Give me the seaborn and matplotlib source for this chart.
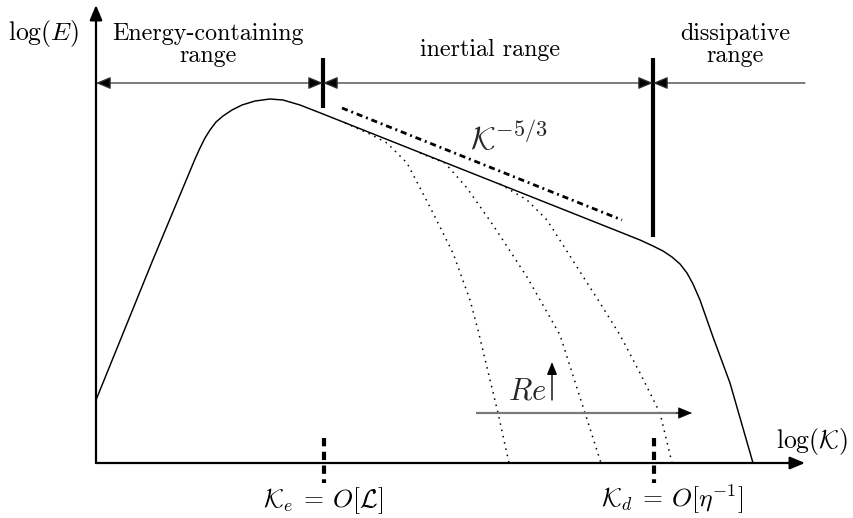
import matplotlib
matplotlib.use("Agg")
import matplotlib.pyplot as plt
import seaborn as sns

# --- energy spectrum (log k, log E) ---
spec_k = [0.00, 0.56, 0.99, 1.04, 1.09, 1.14, 1.20, 1.27, 1.36, 1.46, 1.59, 1.74,
          1.87, 2.04, 2.27, 5.24, 5.44, 5.57, 5.67, 5.76, 5.84, 5.91, 5.97, 6.04,
          6.17, 6.34, 6.57]
spec_E = [0.63, 2.01, 3.04, 3.15, 3.25, 3.33, 3.41, 3.47, 3.53, 3.58, 3.62, 3.64,
          3.63, 3.58, 3.49, 2.31, 2.23, 2.17, 2.12, 2.06, 1.99, 1.90, 1.79, 1.63,
          1.26, 0.80, 0.00]

# lower-Re spectra peeling off the inertial range
low1_k = [2.49, 2.74, 2.91, 3.11, 3.34, 3.57, 3.74, 3.82, 4.02, 4.13]
low1_E = [3.40, 3.29, 3.20, 3.00, 2.56, 2.10, 1.63, 1.33, 0.50, 0.00]
low2_k = [3.24, 3.49, 3.71, 3.97, 4.31, 4.64, 4.89, 5.05]
low2_E = [3.10, 3.00, 2.75, 2.38, 1.86, 1.28, 0.50, 0.00]
low3_k = [4.04, 4.31, 4.51, 4.81, 5.04, 5.24, 5.44, 5.64, 5.76]
low3_E = [2.79, 2.63, 2.43, 1.96, 1.60, 1.28, 0.90, 0.50, 0.00]

# Kolmogorov -5/3 guide line
guide_k = [2.46, 5.26]
guide_E = [3.55, 2.43]

# characteristic wavenumbers and range limits
k_e, k_d = 2.27, 5.57
k_max, E_max = 7.09, 4.58
range_y = 3.80

range_titles = ["Energy-containing\nrange", "inertial range", "dissipative\nrange"]
range_title_x = [1.12, 3.94, 6.39]

sns.set_theme(style="white")
plt.rcParams["mathtext.fontset"] = "cm"
plt.rcParams["axes.unicode_minus"] = False
plt.rcParams["font.family"] = ["cmr10", "DejaVu Serif"]

fig = plt.figure(figsize=(8.54, 5.18), dpi=100)
ax = fig.add_axes([0, 0, 1, 1])
ax.set_xlim(-0.96, 7.58)
ax.set_ylim(-0.55, 4.63)
ax.axis("off")

# spectra
sns.lineplot(x=spec_k, y=spec_E, sort=False, estimator=None, color="black",
             lw=1.05, ax=ax)
for kk, ee in [(low1_k, low1_E), (low2_k, low2_E), (low3_k, low3_E)]:
    sns.lineplot(x=kk, y=ee, sort=False, estimator=None, color="black",
                 lw=1.1, linestyle=(0, (1, 3.2)), ax=ax)
sns.lineplot(x=guide_k, y=guide_E, sort=False, estimator=None, color="black",
             lw=2.0, linestyle=(0, (2.2, 1.4, 0.7, 1.4)), ax=ax)

head = "-|>,head_length=0.6,head_width=0.25"
both = "<|-|>,head_length=0.6,head_width=0.25"
ap = dict(color="black", shrinkA=0, shrinkB=0, mutation_scale=15)

# coordinate axes
ax.annotate("", xy=(0, E_max), xytext=(0, 0),
            arrowprops=dict(arrowstyle=head, lw=1.6, **ap))
ax.annotate("", xy=(k_max, 0), xytext=(0, 0),
            arrowprops=dict(arrowstyle=head, lw=1.6, **ap))

# range separators
rcol = "#333333"
ax.annotate("", xy=(0, range_y), xytext=(k_e, range_y),
            arrowprops=dict(arrowstyle=both, lw=0.9, fc="black", ec=rcol,
                            shrinkA=0, shrinkB=0, mutation_scale=15))
ax.annotate("", xy=(k_e, range_y), xytext=(k_d, range_y),
            arrowprops=dict(arrowstyle=both, lw=0.9, fc="black", ec=rcol,
                            shrinkA=0, shrinkB=0, mutation_scale=15))
ax.annotate("", xy=(k_max, range_y), xytext=(k_d, range_y),
            arrowprops=dict(arrowstyle="<|-,head_length=0.6,head_width=0.25",
                            lw=0.9, fc="black", ec=rcol, shrinkA=0, shrinkB=0,
                            mutation_scale=15))
ax.plot([k_e, k_e], [4.05, 3.55], color="black", lw=3.0, solid_capstyle="butt")
ax.plot([k_d, k_d], [4.05, 2.26], color="black", lw=3.0, solid_capstyle="butt")

# tick marks on the wavenumber axis
for kx in (k_e, k_d):
    ax.plot([kx + 0.01, kx + 0.01], [0.25, -0.20], color="black", lw=3.0,
            linestyle=(0, (2.0, 1.3)), dash_capstyle="butt")

# increasing Reynolds number arrow
ax.plot([3.80, 5.85], [0.50, 0.50], color="#7a7a7a", lw=1.6,
        solid_capstyle="butt")
ax.annotate("", xy=(5.96, 0.50), xytext=(5.80, 0.50),
            arrowprops=dict(arrowstyle=head, lw=0.5, **ap))
ax.annotate("", xy=(4.56, 1.01), xytext=(4.56, 0.63),
            arrowprops=dict(arrowstyle="-|>,head_length=0.5,head_width=0.2",
                            lw=1.0, **ap))

fs = 17.3
mfs = 18.5
txt = dict(fontsize=fs, color="black")
mtxt = dict(fontsize=mfs, color="black")
ax.text(-0.52, 4.23, r"$\log(E)$", ha="center", va="baseline", **mtxt)
ax.text(7.52, 0.15, r"$\log(\mathcal{K})$", ha="right", va="baseline", **mtxt)
for label, xc in zip(range_titles, range_title_x):
    lines = label.split("\n")
    if len(lines) == 2:
        ax.text(xc, 4.23, lines[0], ha="center", va="baseline", **txt)
        ax.text(xc, 4.01, lines[1], ha="center", va="baseline", **txt)
    else:
        ax.text(xc, 4.07, lines[0], ha="center", va="baseline", **txt)
ax.text(3.74, 3.13, r"$\mathcal{K}^{-5/3}$", ha="left", va="baseline",
        fontsize=23)
ax.text(4.12, 0.63, r"$Re$", ha="left", va="baseline", fontsize=22)
ax.text(k_e, -0.44, r"$\mathcal{K}_e\:=\:O[\mathcal{L}]$", ha="center",
        va="baseline", **mtxt)
ax.text(5.76, -0.44, r"$\mathcal{K}_d\:=\:O[\eta^{-1}]$", ha="center",
        va="baseline", **mtxt)

fig.savefig("out.png", dpi=100, facecolor="white")
